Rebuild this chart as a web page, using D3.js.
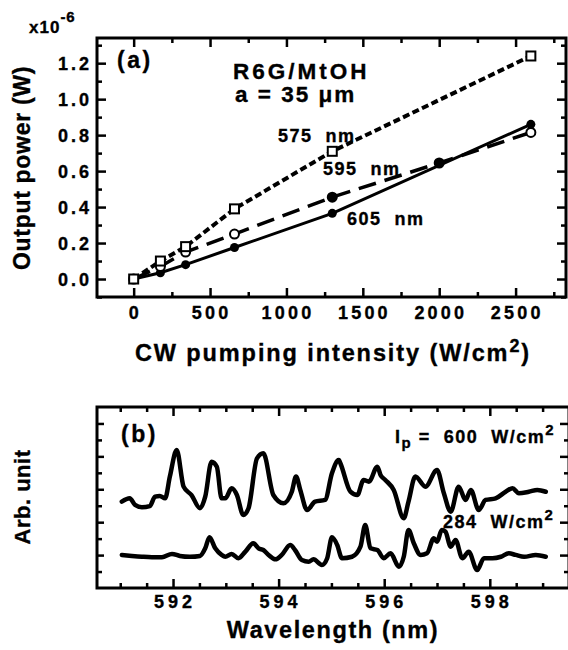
<!DOCTYPE html>
<html><head><meta charset="utf-8">
<script src="https://cdn.jsdelivr.net/npm/d3@7"></script>
<style>
body{margin:0;background:#fff;}
text{font-family:"Liberation Sans",Arial,Helvetica,sans-serif;font-weight:bold;fill:#000;stroke:#000;stroke-width:0.35px;}
</style></head><body>
<svg id="c" width="568" height="650"></svg>
<script>
// ---- Panel (a) data ----
const pumpX = [0, 175, 340, 660, 1300, 2600];
const pump595X = [0, 175, 340, 660, 1300, 2000, 2600];
const p575 = [0.0, 0.10, 0.18, 0.39, 0.71, 1.24];
const p595 = [0.0, 0.07, 0.15, 0.25, 0.455, 0.645, 0.815];
const p605 = [0.0, 0.035, 0.08, 0.175, 0.365, 0.86];
const aXTicks = [0, 500, 1000, 1500, 2000, 2500];
const aYTicks = [0.0, 0.2, 0.4, 0.6, 0.8, 1.0, 1.2];
const seriesLabels = ["575 nm", "595 nm", "605 nm"];
// ---- Panel (b) data ----
const wlTicks = [592, 594, 596, 598];
const spec600wl = [591.03,591.18,591.28,591.41,591.56,591.66,591.75,591.85,591.94,592.07,592.20,592.35,592.51,592.61,592.73,592.83,592.92,592.99,593.11,593.21,593.33,593.43,593.59,593.71,593.90,594.09,594.25,594.33,594.41,594.54,594.69,594.88,595.01,595.14,595.17,595.36,595.49,595.61,595.71,595.87,595.93,596.02,596.18,596.37,596.46,596.59,596.78,597.00,597.13,597.26,597.41,597.54,597.64,597.79,597.92,598.11,598.30,598.43,598.55,598.74,598.90,599.06];
const spec600 = [5.25,5.45,5.05,4.91,4.98,5.55,5.59,5.45,6.77,8.39,6.16,5.65,4.85,5.55,7.68,7.37,5.45,5.45,6.06,5.65,4.44,4.85,7.88,8.19,5.65,5.15,5.85,6.77,5.96,4.74,5.25,5.35,6.97,7.78,7.58,5.85,5.65,6.57,6.46,7.37,6.87,6.57,5.96,4.24,5.25,6.77,6.16,7.17,5.76,4.64,6.16,5.35,5.96,4.74,5.35,5.45,5.85,6.06,5.76,5.85,5.96,5.85];
const spec284wl = [591.03,591.22,591.41,591.60,591.79,591.98,592.13,592.32,592.51,592.61,592.69,592.80,592.92,592.99,593.11,593.24,593.37,593.52,593.62,593.71,593.81,593.94,594.06,594.22,594.31,594.44,594.57,594.66,594.82,594.92,595.01,595.11,595.20,595.39,595.55,595.64,595.74,595.87,595.99,596.12,596.28,596.37,596.46,596.56,596.69,596.81,596.94,597.00,597.09,597.16,597.26,597.35,597.48,597.60,597.76,597.89,598.05,598.21,598.36,598.49,598.65,598.87,599.06];
const spec284 = [2.01,1.95,1.90,1.87,1.87,2.07,1.95,1.90,1.95,2.41,3.08,2.41,2.01,1.90,2.07,1.81,2.21,2.72,2.41,2.31,2.01,1.74,2.01,2.61,2.31,1.70,1.60,1.74,1.40,1.81,3.08,2.61,1.81,1.90,2.51,3.83,2.41,2.31,1.81,2.11,1.29,1.90,3.53,2.72,2.01,2.11,3.02,2.81,3.53,3.42,2.51,2.92,1.81,2.21,1.09,1.81,1.81,1.90,2.11,2.01,1.90,2.01,1.90];

const svg = d3.select("#c");

// ================= Panel (a) =================
const ax = d3.scaleLinear().domain([-240, 2830]).range([97, 566]);
const ay = d3.scaleLinear().domain([-0.1, 1.34]).range([297, 38]);
const ga = svg.append("g");

function ticksAxis(g, axisFn, scale, vals, size) {
  g.call(axisFn(scale).tickValues(vals).tickSize(size).tickFormat(""));
  g.select(".domain").remove();
  g.selectAll(".tick line").attr("stroke", "#000").attr("stroke-width", 2.5);
}
const aXMinor = d3.range(250, 2830, 500);
const aYMinor = d3.range(-0.1, 1.34, 0.2).map(v => +v.toFixed(2));
ticksAxis(ga.append("g").attr("transform","translate(0,297)"), d3.axisBottom, ax, aXTicks, -9);
ticksAxis(ga.append("g").attr("transform","translate(0,297)"), d3.axisBottom, ax, aXMinor, -5);
ticksAxis(ga.append("g").attr("transform","translate(0,38)"), d3.axisTop, ax, aXTicks, -9);
ticksAxis(ga.append("g").attr("transform","translate(0,38)"), d3.axisTop, ax, aXMinor, -5);
ticksAxis(ga.append("g").attr("transform","translate(97,0)"), d3.axisLeft, ay, aYTicks, -9);
ticksAxis(ga.append("g").attr("transform","translate(97,0)"), d3.axisLeft, ay, aYMinor, -5);
ticksAxis(ga.append("g").attr("transform","translate(566,0)"), d3.axisRight, ay, aYTicks, -9);
ticksAxis(ga.append("g").attr("transform","translate(566,0)"), d3.axisRight, ay, aYMinor, -5);

ga.append("rect").attr("x",97).attr("y",38).attr("width",566-97).attr("height",297-38)
  .attr("fill","none").attr("stroke","#000").attr("stroke-width",3);

// tick labels
ga.selectAll(".xl").data(aXTicks).enter().append("text")
  .attr("x", d => ax(d)).attr("dx", 1.6).attr("y", 319).attr("text-anchor","middle")
  .attr("font-size", 18).attr("letter-spacing", 3.2).text(d => d);
ga.selectAll(".yl").data(aYTicks).enter().append("text")
  .attr("x", 89).attr("dx", 3).attr("y", d => ay(d) + 6.5).attr("text-anchor","end")
  .attr("font-size", 18).attr("letter-spacing", 3).text(d => d.toFixed(1));

// multiplier
const mult = ga.append("text").attr("x", 29).attr("y", 33).attr("font-size", 17).attr("letter-spacing", 1);
mult.append("tspan").text("x10");
mult.append("tspan").attr("dy", -11).attr("font-size", 15).text("-6");

// axis titles
ga.append("text").attr("transform","translate(30,168) rotate(-90)").attr("text-anchor","middle")
  .attr("font-size", 23).attr("letter-spacing", 0.7).text("Output power (W)");
const xt = ga.append("text").attr("x", 333).attr("y", 361).attr("text-anchor","middle")
  .attr("font-size", 23.5).attr("letter-spacing", 1.9);
xt.append("tspan").text("CW pumping intensity (W/cm");
xt.append("tspan").attr("dy", -9).attr("font-size", 18).text("2");
xt.append("tspan").attr("dy", 9).text(")");

// lines
const lineA = (xs) => d3.line().x((d,i) => ax(xs[i])).y(d => ay(d));
ga.append("path").datum(p575).attr("d", lineA(pumpX)).attr("fill","none").attr("stroke","#000")
  .attr("stroke-width", 4).attr("stroke-dasharray","7,3.5");
ga.append("path").datum(p595).attr("d", lineA(pump595X)).attr("fill","none").attr("stroke","#000")
  .attr("stroke-width", 3.5).attr("stroke-dasharray","18,9");
ga.append("path").datum(p605).attr("d", lineA(pumpX)).attr("fill","none").attr("stroke","#000")
  .attr("stroke-width", 3);

// markers
ga.selectAll(".m605").data(p605).enter().append("circle")
  .attr("cx",(d,i)=>ax(pumpX[i])).attr("cy",d=>ay(d)).attr("r",4.5).attr("fill","#000");
ga.selectAll(".m595").data(p595).enter().append("circle")
  .attr("cx",(d,i)=>ax(pump595X[i])).attr("cy",d=>ay(d)).attr("r",4.5)
  .attr("fill",(d,i)=> (i === 4 || i === 5) ? "#000" : "#fff").attr("stroke","#000").attr("stroke-width",2);
ga.selectAll(".m575").data(p575).enter().append("rect")
  .attr("x",(d,i)=>ax(pumpX[i])-4.5).attr("y",d=>ay(d)-4.5).attr("width",9).attr("height",9)
  .attr("fill","#fff").attr("stroke","#000").attr("stroke-width",2);

// annotations
ga.append("text").attr("x",117).attr("y",68).attr("font-size",23).attr("letter-spacing",2.5).text("(a)");
ga.append("text").attr("x",233).attr("y",79).attr("font-size",22.5).attr("letter-spacing",3).text("R6G/MtOH");
ga.append("text").attr("x",235).attr("y",102).attr("font-size",22.5).attr("letter-spacing",2).text("a = 35 μm");
const labPos = [[278,142],[323,175],[347,225]];
ga.selectAll(".sl").data(seriesLabels).enter().append("text")
  .attr("x",(d,i)=>labPos[i][0]).attr("y",(d,i)=>labPos[i][1]).attr("font-size",18).attr("letter-spacing",1.5)
  .attr("xml:space","preserve").style("white-space","pre").text(d => d.replace(" ","  "));

// ================= Panel (b) =================
const bx = d3.scaleLinear().domain([590.56, 599.5]).range([97, 569]);
const by = d3.scaleLinear().domain([0, 11]).range([588, 407]);
const gb = svg.append("g");
const bxMinor = d3.range(590.5, 599.6, 0.5).filter(v => v > 590.56 && v < 599.5 && v % 2 !== 0);
const byMajor = [2,4,6,8,10];
const byMinor = [1,3,5,7,9];
ticksAxis(gb.append("g").attr("transform","translate(0,588)"), d3.axisBottom, bx, wlTicks, -9);
ticksAxis(gb.append("g").attr("transform","translate(0,588)"), d3.axisBottom, bx, bxMinor, -5);
ticksAxis(gb.append("g").attr("transform","translate(0,407)"), d3.axisTop, bx, wlTicks, -9);
ticksAxis(gb.append("g").attr("transform","translate(0,407)"), d3.axisTop, bx, bxMinor, -5);
ticksAxis(gb.append("g").attr("transform","translate(97,0)"), d3.axisLeft, by, byMajor, -7);
ticksAxis(gb.append("g").attr("transform","translate(97,0)"), d3.axisLeft, by, byMinor, -5);
ticksAxis(gb.append("g").attr("transform","translate(569,0)"), d3.axisRight, by, byMajor, -9);
ticksAxis(gb.append("g").attr("transform","translate(569,0)"), d3.axisRight, by, byMinor, -5);
gb.append("rect").attr("x",97).attr("y",407).attr("width",569-97).attr("height",588-407)
  .attr("fill","none").attr("stroke","#000").attr("stroke-width",3);

gb.selectAll(".bxl").data(wlTicks).enter().append("text")
  .attr("x", d => bx(d)).attr("dx", 2).attr("y", 608).attr("text-anchor","middle")
  .attr("font-size", 18).attr("letter-spacing", 4).text(d => d);
gb.append("text").attr("x", 333).attr("y", 638).attr("text-anchor","middle")
  .attr("font-size", 23.5).attr("letter-spacing", 1.6).text("Wavelength (nm)");
gb.append("text").attr("transform","translate(30,497) rotate(-90)").attr("text-anchor","middle")
  .attr("font-size", 22).attr("letter-spacing", 0.5).text("Arb. unit");

const lineB = (xs) => d3.line().x((d,i) => bx(xs[i])).y(d => by(d)).curve(d3.curveMonotoneX);
gb.append("path").datum(spec600).attr("d", lineB(spec600wl)).attr("fill","none").attr("stroke","#000")
  .attr("stroke-width", 4.5).attr("stroke-linejoin","round").attr("stroke-linecap","round");
gb.append("path").datum(spec284).attr("d", lineB(spec284wl)).attr("fill","none").attr("stroke","#000")
  .attr("stroke-width", 4.5).attr("stroke-linejoin","round").attr("stroke-linecap","round");

gb.append("text").attr("x",121).attr("y",442).attr("font-size",23).attr("letter-spacing",2.5).text("(b)");
const ip = gb.append("text").attr("x",395).attr("y",443).attr("font-size",18).attr("letter-spacing",1.5)
  .attr("xml:space","preserve").style("white-space","pre");
ip.append("tspan").text("I");
ip.append("tspan").attr("dy",5).attr("font-size",15).text("p");
ip.append("tspan").attr("dy",-5).text(" =  600  W/cm");
ip.append("tspan").attr("dy",-8).attr("font-size",15).text("2");
const lo = gb.append("text").attr("x",443).attr("y",528).attr("font-size",18).attr("letter-spacing",1.5)
  .attr("xml:space","preserve").style("white-space","pre");
lo.append("tspan").text("284  W/cm");
lo.append("tspan").attr("dy",-8).attr("font-size",15).text("2");
</script>
</body></html>
